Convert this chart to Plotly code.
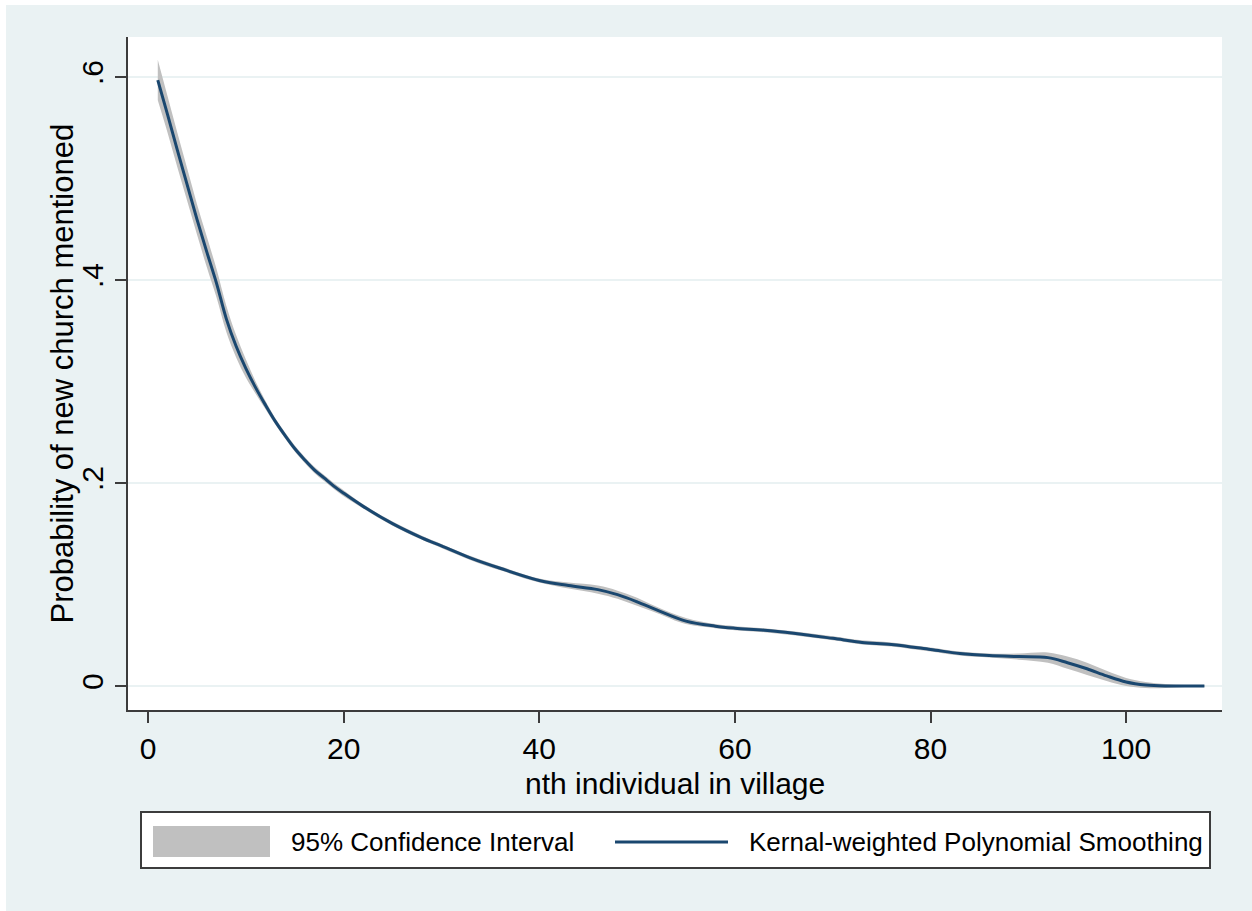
import plotly.graph_objects as go

# ---- data ----
x_vals = [1, 2, 3, 4, 5, 6, 7, 8, 9, 10, 11, 12, 13, 14, 15, 16, 17, 18, 19, 20, 22, 25, 28, 30,
          33, 36, 40, 43, 46, 48, 50, 52, 55, 58, 60, 63, 66, 70, 73, 76, 80, 83, 86,
          89, 92, 94, 96, 98, 100, 102, 104, 106, 108]
smooth = [.597, .563, .528, .494, .460, .428, .397, .362, .335, .313, .294, .277, .261,
          .247, .234, .223, .213, .205, .197, .190, .177, .160, .146, .138, .126, .116, .104,
          .099, .095, .090, .083, .075, .064, .059, .057, .055, .052, .047, .043, .041, .036,
          .032, .030, .029, .028, .023, .017, .010, .004, .001, .000, .000, .000]
half_ci = [.020, .018, .017, .016, .015, .015, .014, .013, .011, .009, .006, .004, .003,
           .003, .003, .003, .003, .003, .003, .003, .002, .002, .002, .002, .002, .002, .002,
           .003, .004, .004, .004, .003, .003, .002, .002, .002, .002, .002, .002, .002, .002,
           .002, .002, .003, .005, .006, .006, .005, .004, .003, .002, .001, .001]
ci_low = [round(s - h, 4) for s, h in zip(smooth, half_ci)]
ci_high = [round(s + h, 4) for s, h in zip(smooth, half_ci)]

x_ticks = [0, 20, 40, 60, 80, 100]
y_ticks = [0, 0.2, 0.4, 0.6]
y_tick_labels = ["0", ".2", ".4", ".6"]
legend_labels = ["95% Confidence Interval", "Kernal-weighted Polynomial Smoothing"]
x_title = "nth individual in village"
y_title = "Probability of new church mentioned"

BG = "#eaf2f3"
NAVY = "#1a476f"
GRAY = "#c0c0c0"
AX = "#3c3c3c"
FONT = "Liberation Sans, Arial, sans-serif"

fig = go.Figure()
fig.add_trace(go.Scatter(x=x_vals, y=ci_low, mode="lines", line=dict(width=0, color=GRAY, shape="spline"),
                         showlegend=False, hoverinfo="skip"))
fig.add_trace(go.Scatter(x=x_vals, y=ci_high, mode="lines", line=dict(width=0, color=GRAY, shape="spline"),
                         fill="tonexty", fillcolor=GRAY, name=legend_labels[0], showlegend=False))
fig.add_trace(go.Scatter(x=x_vals, y=smooth, mode="lines", line=dict(width=3, color=NAVY, shape="spline"),
                         name=legend_labels[1], showlegend=False))

L, R, T, B = 128, 30, 37, 201
W, H = 1252, 911
pw, ph = W - L - R, H - T - B


def px(xp):
    return (xp - L) / pw


def py(yp):
    return (H - B - yp) / ph


shapes = [
    # white strips at top / left of page
    dict(type="rect", xref="paper", yref="paper", x0=px(0), x1=px(W), y0=py(5), y1=py(0),
         fillcolor="white", line=dict(width=0), layer="above"),
    dict(type="rect", xref="paper", yref="paper", x0=px(0), x1=px(6), y0=py(H), y1=py(0),
         fillcolor="white", line=dict(width=0), layer="above"),
    # legend box
    dict(type="rect", xref="paper", yref="paper", x0=px(141), x1=px(1210), y0=py(868), y1=py(812),
         fillcolor="white", line=dict(width=2, color=AX), layer="above"),
    dict(type="rect", xref="paper", yref="paper", x0=px(153), x1=px(270), y0=py(857), y1=py(826),
         fillcolor=GRAY, line=dict(width=0), layer="above"),
    dict(type="line", xref="paper", yref="paper", x0=px(615), x1=px(728), y0=py(842), y1=py(842),
         line=dict(width=3, color=NAVY), layer="above"),
]
annotations = [
    dict(text=legend_labels[0], xref="paper", yref="paper", x=px(289), y=py(842), xanchor="left",
         yanchor="middle", showarrow=False, font=dict(size=26, color="black", family=FONT)),
    dict(text=legend_labels[1], xref="paper", yref="paper", x=px(747), y=py(842), xanchor="left",
         yanchor="middle", showarrow=False, font=dict(size=26, color="black", family=FONT)),
    dict(text=x_title, xref="paper", yref="paper", x=0.5, y=py(783), xanchor="center",
         yanchor="middle", showarrow=False, font=dict(size=30, color="black", family=FONT)),
    dict(text=y_title, xref="paper", yref="paper", x=px(62), y=0.5, xanchor="center",
         yanchor="middle", textangle=-90, showarrow=False,
         font=dict(size=31, color="black", family=FONT)),
]

fig.update_layout(
    width=W, height=H,
    margin=dict(l=L, r=R, t=T, b=B, autoexpand=False),
    paper_bgcolor=BG, plot_bgcolor="white",
    font=dict(family=FONT, color="black", size=30),
    shapes=shapes, annotations=annotations,
    showlegend=False,
    xaxis=dict(range=[-2.045, 109.8], tickvals=x_ticks, showgrid=False, zeroline=False,
               showline=True, linecolor=AX, linewidth=2, ticks="outside", ticklen=11,
               tickwidth=2, tickcolor=AX, tickfont=dict(size=30)),
    yaxis=dict(range=[-0.0236, 0.6394], tickvals=y_ticks, ticktext=y_tick_labels, tickangle=-90,
               showgrid=True, gridcolor=BG, gridwidth=2, zeroline=False,
               showline=True, linecolor=AX, linewidth=2, ticks="outside", ticklen=11,
               tickwidth=2, tickcolor=AX, tickfont=dict(size=30)),
)

fig.write_html("out.html", config={"displayModeBar": False},
               post_script="document.body.style.margin='0';")
